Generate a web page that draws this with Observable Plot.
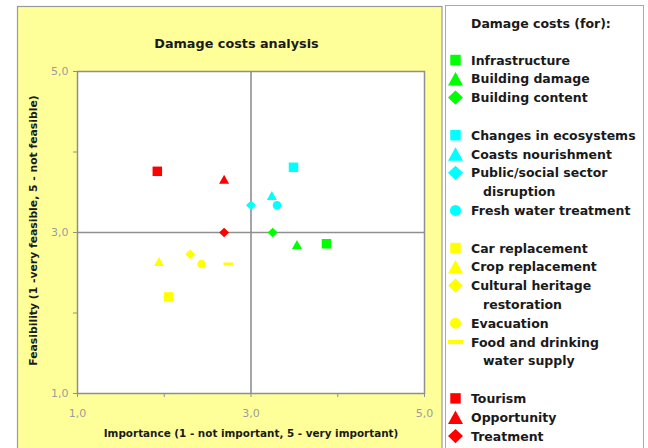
<!DOCTYPE html>
<html>
<head>
<meta charset="utf-8">
<script src="https://cdn.jsdelivr.net/npm/d3@7"></script>
<script src="https://cdn.jsdelivr.net/npm/@observablehq/plot@0.6"></script>
<style>
  html, body { margin: 0; padding: 0; background: #fff; }
  #chart { width: 648px; height: 448px; }
</style>
</head>
<body>
<div id="chart"></div>
<script>
// Damage cost categories (a "\n" marks where the legend wraps the name)
const categories = [
  "Infrastructure", "Building damage", "Building content",
  "Changes in ecosystems", "Coasts nourishment", "Public/social sector\ndisruption", "Fresh water treatment",
  "Car replacement", "Crop replacement", "Cultural heritage\nrestoration", "Evacuation", "Food and drinking\nwater supply",
  "Tourism", "Opportunity", "Treatment"
];
const groupOf = [0, 0, 0, 1, 1, 1, 1, 2, 2, 2, 2, 2, 3, 3, 3];
const shapeOf = [
  "square", "triangle", "diamond",
  "square", "triangle", "diamond", "circle",
  "square", "triangle", "diamond", "circle", "dash",
  "square", "triangle", "diamond"
];
// Importance (1 - not important, 5 - very important)
const importance = [3.87, 3.53, 3.25, 3.49, 3.24, 3.00, 3.30, 2.05, 1.94, 2.30, 2.43, 2.74, 1.92, 2.69, 2.69];
// Feasibility (1 - very feasible, 5 - not feasible)
const feasibility = [2.86, 2.85, 3.00, 3.81, 3.46, 3.34, 3.34, 2.20, 2.64, 2.73, 2.61, 2.61, 3.76, 3.66, 3.00];

const axisTicks = [1, 2, 3, 4, 5];
const labeledTicks = [1, 3, 5];
const quadrantSplit = 3;

const title = "Damage costs analysis";
const legendTitle = "Damage costs (for):";
const xLabel = "Importance (1 - not important, 5 - very important)";
const yLabel = "Feasibility (1 -very feasible, 5 - not feasible)";

const groupColors = ["#00ff00", "#00ffff", "#ffff00", "#ff0000"];

// Marker shapes; the half-width is derived from the symbol size
const halfWidth = size => Math.sqrt(size / Math.PI);
const SHAPES = {
  square: { draw(ctx, size) { const r = halfWidth(size) * 0.95; ctx.rect(-r, -r, 2 * r, 2 * r); } },
  triangle: { draw(ctx, size) { const r = halfWidth(size), h = r * 0.9;
    ctx.moveTo(0, -h); ctx.lineTo(r, h); ctx.lineTo(-r, h); ctx.closePath(); } },
  diamond: { draw(ctx, size) { const r = halfWidth(size), h = r * 0.95;
    ctx.moveTo(0, -h); ctx.lineTo(r, 0); ctx.lineTo(0, h); ctx.lineTo(-r, 0); ctx.closePath(); } },
  circle: { draw(ctx, size) { const r = halfWidth(size) * 0.85; ctx.moveTo(r, 0); ctx.arc(0, 0, r, 0, 2 * Math.PI); } },
  dash: { draw(ctx, size) { const r = halfWidth(size); ctx.rect(-r, -r * 0.28, 2 * r, r * 0.56); } }
};
const legendRadius = { square: 5.5, triangle: 7.5, diamond: 7.5, circle: 6.5, dash: 7.5 };

const fmt = d => labeledTicks.includes(d) ? d.toFixed(1).replace(".", ",") : "";
const index = categories.map((_, i) => i);
const shapeNames = Object.keys(SHAPES);

const dotMarks = shapeNames.map(name => Plot.dot(index.filter(i => shapeOf[i] === name), {
  x: i => importance[i],
  y: i => feasibility[i],
  fill: i => groupColors[groupOf[i]],
  symbol: SHAPES[name],
  r: 5
}));

const chart = Plot.plot({
  width: 648,
  height: 448,
  marginLeft: 77,
  marginRight: 224,
  marginTop: 71,
  marginBottom: 55,
  style: { fontFamily: "'DejaVu Sans', sans-serif", background: "transparent", overflow: "visible" },
  x: { domain: [1, 5] },
  y: { domain: [1, 5] },
  color: { type: "identity" },
  marks: [
    Plot.frame({ fill: "white", stroke: "#8f8f8f", strokeWidth: 1.5 }),
    Plot.ruleX([quadrantSplit], { stroke: "#8f8f8f", strokeWidth: 1.6 }),
    Plot.ruleY([quadrantSplit], { stroke: "#8f8f8f", strokeWidth: 1.6 }),
    ...dotMarks,
    Plot.axisX(axisTicks, { tickSize: 4, tickPadding: 12, tickFormat: fmt, stroke: "#8f8f8f", fill: "#9c9c9c", fontSize: 11, label: null }),
    Plot.axisY(axisTicks, { tickSize: 4, tickPadding: 5, tickFormat: fmt, stroke: "#8f8f8f", fill: "#9c9c9c", fontSize: 11, label: null }),
    Plot.text([title], { text: d => d, frameAnchor: "top", dx: -14.5, dy: -33, fontWeight: "bold", fontSize: 12.8, fill: "#1a1a1a" }),
    Plot.text([xLabel], { text: d => d, frameAnchor: "bottom", dy: 43, fontWeight: "bold", fontSize: 10.4, fill: "#1a1a1a" }),
    Plot.text([yLabel], { text: d => d, frameAnchor: "left", textAnchor: "middle", dx: -44, dy: -2, rotate: -90, fontWeight: "bold", fontSize: 10.8, fill: "#1a1a1a" })
  ]
});

document.getElementById("chart").append(chart);

// Chart panel and legend panel behind the plot
const svg = d3.select(chart);
const bg = svg.insert("g", ":first-child");
bg.append("rect").attr("x", 17.5).attr("y", 6.5).attr("width", 424.5).attr("height", 460)
  .attr("fill", "#ffff99").attr("stroke", "#999").attr("stroke-width", 1.2);
bg.append("rect").attr("x", 445.5).attr("y", 5.5).attr("width", 198).attr("height", 460)
  .attr("fill", "#fff").attr("stroke", "#aaa").attr("stroke-width", 1);

// Legend: one row per line, a blank row between groups
const legend = svg.append("g")
  .attr("font-family", "'DejaVu Sans', sans-serif")
  .attr("font-weight", "bold")
  .attr("font-size", 12.5)
  .attr("text-anchor", "start")
  .attr("fill", "#1a1a1a");
legend.append("text").attr("x", 471).attr("y", 23).attr("dy", "0.36em").text(legendTitle);

const rowStep = 18.8, firstRow = 60;
let row = 0, prevGroup = groupOf[0];
index.forEach(i => {
  if (groupOf[i] !== prevGroup) { row += 1; prevGroup = groupOf[i]; }
  const y = firstRow + row * rowStep;
  const r = legendRadius[shapeOf[i]];
  legend.append("path")
    .attr("transform", `translate(455.5,${y})`)
    .attr("d", d3.symbol().type(SHAPES[shapeOf[i]]).size(Math.PI * r * r)())
    .attr("fill", groupColors[groupOf[i]]);
  categories[i].split("\n").forEach((line, k) => {
    legend.append("text")
      .attr("x", k === 0 ? 471 : 483)
      .attr("y", firstRow + row * rowStep)
      .attr("dy", "0.36em")
      .text(line);
    row += 1;
  });
});
</script>
</body>
</html>
